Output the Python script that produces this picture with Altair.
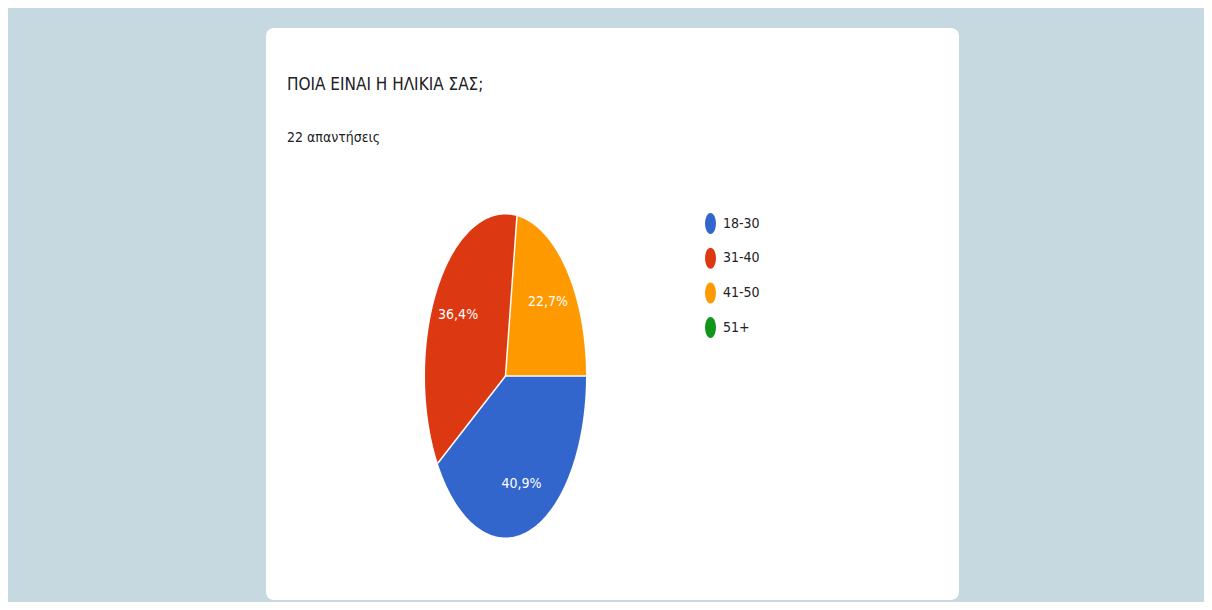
import altair as alt
import pandas as pd

# ---- data ----
categories = ["18-30", "31-40", "41-50", "51+"]
counts = [9, 8, 5, 0]
pct_labels = ["40,9%", "36,4%", "22,7%", ""]
colors = ["#3366cc", "#dc3912", "#ff9900", "#109618"]
title_text = "ΠΟΙΑ ΕΙΝΑΙ Η ΗΛΙΚΙΑ ΣΑΣ;"
subtitle_text = "22 απαντήσεις"

FONT = "DejaVu Sans Condensed, Liberation Sans Narrow, Roboto"
W, H = 1196, 594

df = pd.DataFrame({"cat": categories, "n": counts, "ord": list(range(len(categories))), "lab": pct_labels})
one = pd.DataFrame({"k": [0]})

xs = alt.Scale(domain=[-1, 1], range=[417, 578])
ys = alt.Scale(domain=[-1, 1], range=[529.5, 206.5])

base = (
    alt.Chart(df)
    .transform_joinaggregate(total="sum(n)")
    .transform_window(cum="sum(n)", sort=[alt.SortField("ord")], frame=[None, 0])
    .transform_calculate(
        a0="PI/2 + 2*PI*(datum.cum - datum.n)/datum.total",
        a1="PI/2 + 2*PI*datum.cum/datum.total",
    )
)

ellipse_path = "M -0.52 0 A 0.52 1 0 1 1 0.52 0 A 0.52 1 0 1 1 -0.52 0 Z"

poly = (
    base.transform_filter("datum.n > 0")
    .transform_calculate(t="sequence(-1, 181)")
    .transform_flatten(["t"])
    .transform_calculate(
        ang="datum.a0 + (datum.a1 - datum.a0) * max(datum.t, 0) / 180",
        px="datum.t < 0 ? 0 : sin(datum.ang)",
        py="datum.t < 0 ? 0 : cos(datum.ang)",
    )
    .mark_line(strokeWidth=0, interpolate="linear")
    .encode(
        x=alt.X("px:Q", scale=xs, axis=None),
        y=alt.Y("py:Q", scale=ys, axis=None),
        order=alt.Order("t:Q"),
        detail="cat:N",
        fill=alt.Fill(
            "cat:N",
            scale=alt.Scale(domain=categories, range=colors),
            legend=alt.Legend(
                title=None,
                orient="none",
                legendX=692,
                legendY=205,
                padding=0,
                symbolType=ellipse_path,
                symbolSize=441,
                symbolStrokeWidth=0,
                symbolOpacity=1,
                labelFont=FONT,
                labelFontSize=14,
                labelColor="#222222",
                labelOffset=2,
                rowPadding=11.7,
            ),
        ),
    )
)

seps = (
    base.transform_filter("datum.n > 0")
    .transform_calculate(cx="0", cy="0", ex="sin(datum.a0)", ey="cos(datum.a0)")
    .mark_rule(color="white", strokeWidth=1.5)
    .encode(
        x=alt.X("cx:Q", scale=xs, axis=None),
        y=alt.Y("cy:Q", scale=ys, axis=None),
        x2="ex:Q",
        y2="ey:Q",
    )
)

labs = (
    base.transform_filter("datum.n > 0")
    .transform_calculate(
        m="(datum.a0 + datum.a1)/2",
        lx="0.7*sin(datum.m)",
        ly="0.7*cos(datum.m)",
    )
    .mark_text(color="white", font=FONT, fontSize=14, align="center", baseline="middle")
    .encode(
        x=alt.X("lx:Q", scale=xs, axis=None),
        y=alt.Y("ly:Q", scale=ys, axis=None),
        text="lab:N",
    )
)

card = (
    alt.Chart(one)
    .mark_rect(color="white", cornerRadius=8)
    .encode(x=alt.value(258), x2=alt.value(951), y=alt.value(20), y2=alt.value(592))
)

title = (
    alt.Chart(one)
    .mark_text(font=FONT, fontSize=17, color="#202124", align="left", baseline="alphabetic")
    .encode(x=alt.value(279), y=alt.value(82), text=alt.value(title_text))
)
subtitle = (
    alt.Chart(one)
    .mark_text(font=FONT, fontSize=14, color="#202124", align="left", baseline="alphabetic")
    .encode(x=alt.value(279), y=alt.value(134), text=alt.value(subtitle_text))
)

chart = (
    alt.layer(card, poly, seps, labs, title, subtitle)
    .properties(width=W, height=H, padding=0, autosize=alt.AutoSizeParams(type="none"))
    .configure(background="#c6d8e0")
    .configure_view(strokeWidth=0)
)

chart.save("out.html", embed_options={"renderer": "svg", "actions": False})
